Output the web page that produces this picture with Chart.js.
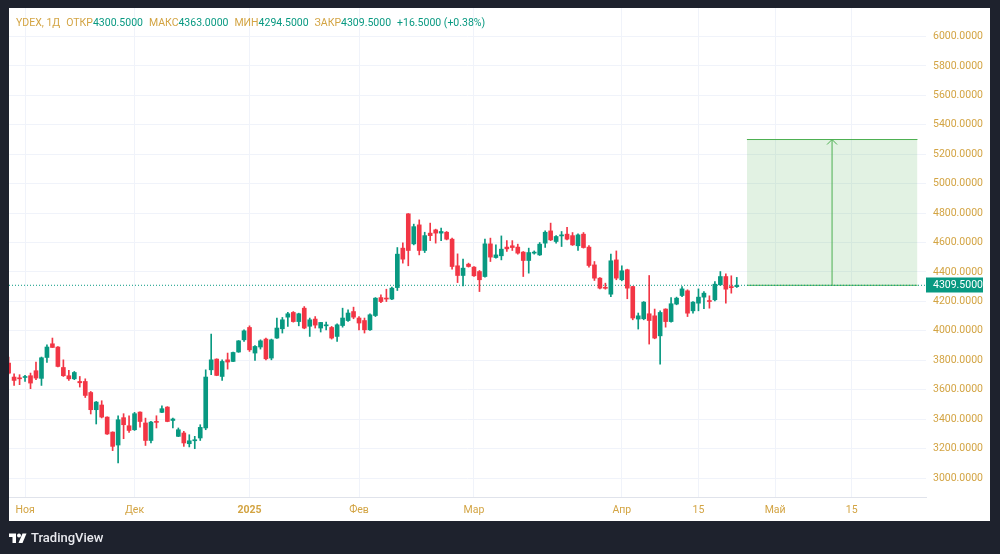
<!DOCTYPE html>
<html>
<head>
<meta charset="utf-8">
<script src="https://cdn.jsdelivr.net/npm/chart.js@4.4.1/dist/chart.umd.min.js"></script>
<style>
  html, body { margin: 0; padding: 0; width: 1000px; height: 554px; overflow: hidden; background: #1e222d; }
  #panel { position: absolute; left: 9px; top: 8px; width: 981px; height: 513px; background: #ffffff; }
  #chart { position: absolute; left: 0; top: 0; }
  #legend { position: absolute; left: 16px; top: 16px; font: 10.5px Roboto, sans-serif; color: #089981; white-space: nowrap; }
  #legend .k { color: #d3a443; }
  #legend .sp { margin-left: 6px; }
  #footer { position: absolute; left: 9px; top: 530px; font: 500 13px Roboto, sans-serif; color: #e8e9ee; display: flex; align-items: center; }
  #footer svg { margin-right: 4px; }
</style>
</head>
<body>
<div id="panel"></div>
<canvas id="chart" width="1000" height="554"></canvas>
<div id="legend"></div>
<div id="footer">
  <svg width="18" height="12" viewBox="0 0 36 24"><path d="M14 22H7V10H0V3h14z" fill="#fff"/><circle cx="20" cy="7" r="4" fill="#fff"/><path d="M27 22h-8l8-19h8z" fill="#fff"/></svg>
  TradingView
</div>
<script>
const UP = '#089981';
const DOWN = '#f23645';
const GOLD = '#d3a443';
const FONT = 'Roboto';
const FSIZE = 10.5;

// Дневные свечи YDEX (конец окт. 2024 – апр. 2025)
const opens = [3781, 3686, 3681, 3683, 3695, 3729, 3677, 3819, 3912, 3890,
  3751, 3695, 3674, 3656, 3656, 3581, 3464, 3496, 3414, 3312,
  3224, 3410, 3355, 3328, 3448, 3374, 3255, 3384, 3446, 3482,
  3391, 3283, 3306, 3233, 3253, 3272, 3340, 3735, 3808, 3690,
  3803, 3792, 3856, 3939, 4023, 3849, 3890, 3944, 3815, 3951,
  4014, 4093, 4125, 4063, 4154, 4031, 4080, 4019, 4034, 4023,
  3962, 4036, 4070, 4131, 4087, 4070, 4007, 4104, 4226, 4222,
  4216, 4294, 4562, 4795, 4591, 4720, 4546, 4664, 4686, 4664,
  4670, 4623, 4442, 4376, 4453, 4433, 4403, 4369, 4591, 4498,
  4510, 4569, 4578, 4569, 4535, 4478, 4528, 4516, 4596, 4679,
  4607, 4645, 4657, 4647, 4578, 4657, 4569, 4448, 4358, 4296,
  4249, 4482, 4347, 4415, 4301, 4080, 4082, 4116, 4102, 3966,
  4148, 4063, 4182, 4240, 4272, 4136, 4188, 4229, 4204, 4211,
  4313, 4369, 4301, 4300.5];
const highs = [3822, 3708, 3702, 3697, 3713, 3788, 3822, 3905, 3951, 3893,
  3803, 3731, 3724, 3690, 3674, 3588, 3520, 3525, 3416, 3314,
  3423, 3437, 3423, 3446, 3450, 3407, 3385, 3423, 3491, 3485,
  3407, 3340, 3317, 3294, 3283, 3362, 3735, 3978, 3810, 3803,
  3849, 3855, 3934, 4007, 4034, 3899, 3939, 3951, 3944, 4087,
  4091, 4125, 4131, 4120, 4165, 4087, 4097, 4058, 4059, 4030,
  4048, 4154, 4143, 4161, 4097, 4087, 4116, 4226, 4245, 4283,
  4297, 4566, 4598, 4797, 4725, 4754, 4670, 4732, 4691, 4698,
  4675, 4630, 4523, 4487, 4460, 4437, 4410, 4623, 4630, 4584,
  4645, 4613, 4613, 4589, 4539, 4562, 4543, 4600, 4679, 4732,
  4647, 4675, 4704, 4668, 4659, 4668, 4580, 4471, 4362, 4324,
  4521, 4543, 4442, 4419, 4303, 4121, 4199, 4376, 4148, 4136,
  4150, 4226, 4229, 4301, 4279, 4199, 4285, 4267, 4238, 4335,
  4403, 4387, 4374, 4363];
const lows = [3708, 3629, 3634, 3656, 3607, 3668, 3629, 3785, 3887, 3755,
  3690, 3663, 3668, 3618, 3547, 3435, 3367, 3408, 3296, 3186,
  3102, 3267, 3310, 3323, 3346, 3221, 3238, 3340, 3444, 3382,
  3340, 3281, 3215, 3211, 3199, 3255, 3328, 3702, 3695, 3663,
  3740, 3790, 3854, 3928, 3860, 3799, 3876, 3803, 3803, 3949,
  3985, 4030, 4059, 4034, 4014, 3962, 4019, 3992, 4007, 3944,
  3928, 4025, 4064, 4082, 4007, 3985, 4002, 4097, 4192, 4199,
  4211, 4274, 4460, 4442, 4584, 4516, 4532, 4613, 4596, 4613,
  4618, 4419, 4328, 4306, 4433, 4369, 4267, 4365, 4471, 4494,
  4482, 4539, 4546, 4521, 4369, 4392, 4521, 4512, 4566, 4613,
  4596, 4573, 4618, 4580, 4546, 4562, 4433, 4342, 4285, 4283,
  4233, 4347, 4340, 4218, 4075, 4012, 4075, 3910, 3946, 3774,
  4025, 4059, 4177, 4233, 4097, 4120, 4136, 4150, 4154, 4204,
  4308, 4188, 4256, 4294.5];
const closes = [3713, 3663, 3674, 3688, 3645, 3679, 3817, 3890, 3887, 3758,
  3695, 3674, 3717, 3647, 3561, 3464, 3516, 3414, 3299, 3215,
  3396, 3362, 3323, 3437, 3384, 3255, 3380, 3378, 3471, 3384,
  3401, 3328, 3238, 3253, 3260, 3344, 3686, 3803, 3697, 3792,
  3788, 3853, 3932, 4000, 3871, 3894, 3932, 3810, 3939, 4019,
  4075, 4116, 4063, 4116, 4019, 4075, 4039, 4057, 4041, 3951,
  4041, 4087, 4121, 4093, 4053, 4007, 4109, 4222, 4199, 4216,
  4290, 4521, 4487, 4546, 4708, 4546, 4647, 4647, 4664, 4675,
  4623, 4437, 4376, 4426, 4437, 4374, 4347, 4591, 4501, 4516,
  4555, 4557, 4566, 4528, 4478, 4532, 4535, 4589, 4670, 4618,
  4641, 4652, 4623, 4584, 4652, 4566, 4444, 4358, 4290, 4289,
  4476, 4358, 4408, 4290, 4087, 4102, 4195, 4070, 3951, 4125,
  4063, 4184, 4222, 4285, 4120, 4195, 4229, 4256, 4199, 4317,
  4369, 4283, 4293, 4309.5];

// подписи оси времени (номер бара) и цены
const tickIdx = [3, 23, 44, 64, 85, 112, 126, 140, 154];
const tickText = ['Ноя', 'Дек', '2025', 'Фев', 'Мар', 'Апр', '15', 'Май', '15'];
const priceTicks = [3000, 3200, 3400, 3600, 3800, 4000, 4200, 4400, 4600, 4800, 5000, 5200, 5400, 5600, 5800, 6000];

// инструмент "диапазон цен"
const rangeFrom = 134.85, rangeTo = 166.0, rangeArrow = 150.4;
const rangeLow = 4309.5, rangeHigh = 5300;

const X_MIN = 0.07, X_MAX = 167.56;

const n = closes.length;
const idx = closes.map((_, i) => i);
const colors = idx.map(i => closes[i] >= opens[i] ? UP : DOWN);
const last = closes[n - 1];

// легенда сверху
const chg = last - closes[n - 2];
const fmt = v => v.toFixed(4);
document.getElementById('legend').innerHTML =
  '<span class="k">YDEX, 1Д</span>' +
  '<span class="k sp">ОТКР</span>' + fmt(opens[n - 1]) +
  '<span class="k sp">МАКС</span>' + fmt(highs[n - 1]) +
  '<span class="k sp">МИН</span>' + fmt(lows[n - 1]) +
  '<span class="k sp">ЗАКР</span>' + fmt(last) +
  '<span class="sp">+' + fmt(chg) + ' (+' + (chg / closes[n - 2] * 100).toFixed(2) + '%)</span>';

const overlay = {
  id: 'overlay',
  afterDatasetsDraw(chart) {
    const { ctx, chartArea, scales: { x, y } } = chart;
    ctx.save();
    // наконечник стрелки
    const ax = x.getPixelForValue(rangeArrow), ay = y.getPixelForValue(rangeHigh);
    ctx.strokeStyle = '#4caf50';
    ctx.lineWidth = 1;
    ctx.beginPath();
    ctx.moveTo(ax - 5, ay + 5);
    ctx.lineTo(ax, ay);
    ctx.lineTo(ax + 5, ay + 5);
    ctx.stroke();
    // метка последней цены
    const py = y.getPixelForValue(last);
    ctx.fillStyle = UP;
    ctx.fillRect(chartArea.right, Math.round(py) - 7.5, 57, 15);
    ctx.fillStyle = '#ffffff';
    ctx.font = FSIZE + 'px ' + FONT;
    ctx.textBaseline = 'middle';
    ctx.fillText(fmt(last), chartArea.right + 7, py);
    ctx.restore();
  }
};

new Chart(document.getElementById('chart'), {
  type: 'bar',
  data: {
    datasets: [
      {
        type: 'bar', order: 0,
        data: idx.map(i => ({ x: i, y: [lows[i], highs[i]] })),
        backgroundColor: colors, barThickness: 1, grouped: false
      },
      {
        type: 'bar', order: 0,
        data: idx.map(i => ({ x: i, y: [opens[i], closes[i]] })),
        backgroundColor: colors, barThickness: 4, minBarLength: 1, grouped: false
      },
      {
        type: 'line', order: 1,
        data: [{ x: X_MIN, y: last }, { x: X_MAX, y: last }],
        borderColor: UP, borderWidth: 1, borderDash: [1, 2], pointRadius: 0, fill: false
      },
      {
        type: 'line', order: 2,
        data: [{ x: rangeArrow, y: rangeLow }, { x: rangeArrow, y: rangeHigh }],
        borderColor: '#4caf50', borderWidth: 1, pointRadius: 0, fill: false
      },
      {
        type: 'line', order: 3,
        data: [{ x: rangeFrom, y: rangeLow }, { x: rangeTo, y: rangeLow }],
        borderColor: '#4caf50', borderWidth: 1, pointRadius: 0, fill: false
      },
      {
        type: 'line', order: 4,
        data: [{ x: rangeFrom, y: rangeHigh }, { x: rangeTo, y: rangeHigh }],
        borderColor: '#4caf50', borderWidth: 1, pointRadius: 0,
        fill: { value: rangeLow }, backgroundColor: 'rgba(76, 175, 80, 0.16)'
      }
    ]
  },
  options: {
    responsive: false,
    animation: false,
    layout: { padding: { left: 9, top: 8, right: 10, bottom: 33 } },
    plugins: { legend: { display: false }, tooltip: { enabled: false } },
    scales: {
      x: {
        type: 'linear', min: X_MIN, max: X_MAX, offset: false,
        grid: { color: '#f0f3fa', drawTicks: false, offset: false },
        border: { display: true, color: '#e0e3eb' },
        ticks: {
          autoSkip: false, maxRotation: 0, padding: 7, color: GOLD,
          font: ctx => ({ family: FONT, size: FSIZE, weight: ctx.tick && ctx.tick.value === 44 ? 'bold' : 'normal' }),
          callback: v => tickText[tickIdx.indexOf(v)]
        },
        afterBuildTicks: s => { s.ticks = tickIdx.map(v => ({ value: v })); },
        afterFit: s => { s.height = 24; s.paddingLeft = 0; s.paddingRight = 0; }
      },
      y: {
        type: 'linear', position: 'right', min: 2870.9, max: 6193.7,
        grid: { color: '#f0f3fa', drawTicks: false },
        border: { display: false },
        ticks: {
          padding: 7, color: GOLD, font: { family: FONT, size: FSIZE },
          callback: v => v.toFixed(4)
        },
        afterBuildTicks: s => { s.ticks = priceTicks.map(v => ({ value: v })); },
        afterFit: s => { s.width = 64; s.paddingTop = 0; s.paddingBottom = 0; }
      }
    }
  },
  plugins: [overlay]
});
</script>
</body>
</html>
